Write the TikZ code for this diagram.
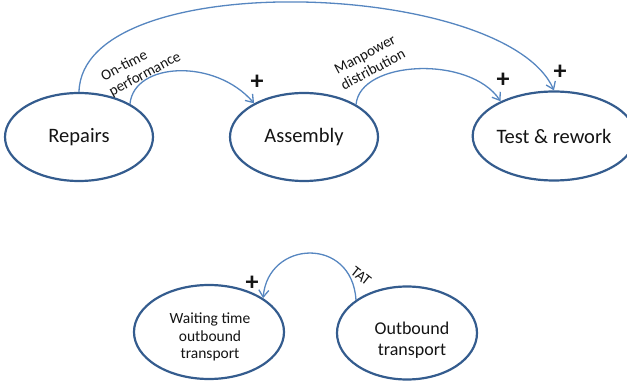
\documentclass[tikz,border=0pt]{standalone}
\usepackage{fontspec}
\setmainfont{Carlito}
\usetikzlibrary{arrows.meta,shapes.geometric}
\definecolor{ringblue}{RGB}{52,92,142}
\definecolor{linkblue}{RGB}{86,134,192}
\definecolor{inktext}{RGB}{20,20,20}
\tikzset{
  factor/.style={ellipse, draw=ringblue, line width=2.2pt, inner sep=0pt,
    text=inktext, font=\fontsize{20.5}{24}\selectfont, align=center},
  link/.style={draw=linkblue, line width=1.3pt,
    -{Straight Barb[length=7pt,width=10pt,line width=1.3pt]}},
  linklabel/.style={text=inktext, font=\fontsize{15}{17}\selectfont, align=left, inner sep=0pt},
  polarity/.style={text=inktext, font=\fontsize{26}{26}\selectfont\bfseries, inner sep=0pt}
}
\begin{document}
\begin{tikzpicture}[x=1pt,y=-1pt]
\useasboundingbox (0,0) rectangle (627,382);

% factors
\node[factor, minimum width=148pt, minimum height=88pt] (rep) at (79,137) {Repairs};
\node[factor, minimum width=148pt, minimum height=88pt] (asm) at (304,137) {Assembly};
\node[factor, minimum width=144pt, minimum height=89pt] (tst) at (554,136) {Test \& rework};
\node[factor, minimum width=150pt, minimum height=94pt] (wait) at (209,332) {};
\node[factor, minimum width=140pt, minimum height=93pt] (out) at (407,333) {};
\node[text=inktext, font=\fontsize{15.5}{17.5}\selectfont, align=center, inner sep=0pt]
  (waittxt) at (210,337) {Waiting time\\outbound\\transport};
\node[text=inktext, font=\fontsize{18}{20.5}\selectfont, align=center, inner sep=0pt]
  (outtxt) at (412,340) {Outbound\\transport};

% causal links
\draw[link] (rep.33) .. controls (134,62) and (215,58) .. (asm.146);
\draw[link] (asm.32) .. controls (360,60) and (470,55) .. (tst.147);
\draw[link] (rep.north) .. controls (82,-35) and (505,-20) .. (tst.north);
\draw[link] (out.147) .. controls (352,236) and (268,240) .. (wait.32);

% link labels
\node[linklabel, rotate=28] (lblrep) at (141,67) {On-time\\performance};
\node[linklabel, rotate=28, align=center] (lblasm) at (369,62) {Manpower\\distribution};
\node[linklabel, rotate=-38] (lbltat) at (361,276) {TAT};

% polarities
\node[polarity] (p1) at (257,82) {+};
\node[polarity] (p2) at (503,80) {+};
\node[polarity] (p3) at (560,72) {+};
\node[polarity] (p4) at (252,283) {+};
\end{tikzpicture}
\end{document}
